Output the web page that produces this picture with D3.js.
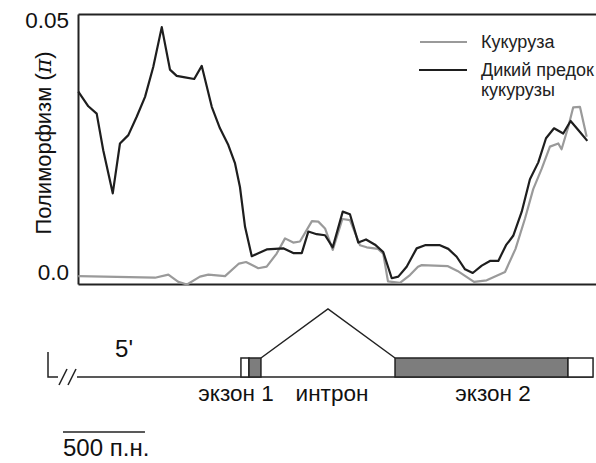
<!DOCTYPE html>
<html>
<head>
<meta charset="utf-8">
<script src="https://cdn.jsdelivr.net/npm/d3@7.9.0/dist/d3.min.js"></script>
<style>
  body { margin: 0; background: #fff; }
  svg { display: block; font-family: "Liberation Sans", Arial, Helvetica, sans-serif; }
</style>
</head>
<body>
<svg id="chart" width="596" height="463"></svg>
<script>
// positions along the gene, bp
const wildX = [2, 63, 114, 154, 212, 256, 307, 358, 409, 459, 511, 561, 602, 653, 709, 755, 816, 866, 917, 958, 988, 1019,
  1060, 1151, 1252, 1313, 1365, 1405, 1456, 1507, 1554, 1615, 1659, 1710, 1757, 1812, 1862, 1914, 1954, 2005, 2066, 2117,
  2208, 2259, 2310, 2361, 2408, 2463, 2513, 2564, 2611, 2655, 2707, 2757, 2808, 2855, 2904, 2960, 3005, 3062, 3107];
const wildPi = [0.0352, 0.0324, 0.0310, 0.0240, 0.0158, 0.0253, 0.0269, 0.0304, 0.0342, 0.0399, 0.0475, 0.0394, 0.0382,
  0.0379, 0.0376, 0.0401, 0.0323, 0.0282, 0.0250, 0.0215, 0.0170, 0.0094, 0.0038, 0.0051, 0.0053, 0.0044, 0.0044, 0.0085,
  0.0080, 0.0078, 0.0055, 0.0123, 0.0118, 0.0064, 0.0070, 0.0060, 0.0046, -0.0004, -0.0001, 0.0018, 0.0053, 0.0059,
  0.0059, 0.0052, 0.0037, 0.0013, 0.0006, 0.0020, 0.0029, 0.0029, 0.0059, 0.0077, 0.0123, 0.0185, 0.0217, 0.0263,
  0.0282, 0.0272, 0.0296, 0.0275, 0.0258];

const maizeX = [2, 470, 551, 612, 665, 744, 795, 897, 982, 1025, 1100, 1151, 1212, 1263, 1313, 1354, 1427, 1466, 1507,
  1554, 1613, 1659, 1720, 1761, 1830, 1862, 1891, 1964, 2025, 2074, 2097, 2257, 2315, 2416, 2493, 2605, 2669, 2727,
  2777, 2829, 2879, 2930, 2950, 2991, 3021, 3062, 3103];
const maizePi = [0.0000, -0.0003, 0.0003, -0.0011, -0.0016, -0.0001, 0.0003, 0.0000, 0.0024, 0.0027, 0.0015, 0.0018,
  0.0043, 0.0072, 0.0064, 0.0066, 0.0105, 0.0104, 0.0091, 0.0050, 0.0109, 0.0107, 0.0059, 0.0055, 0.0052, 0.0043,
  -0.0010, -0.0013, 0.0002, 0.0018, 0.0021, 0.0019, 0.0010, -0.0011, -0.0008, 0.0008, 0.0052, 0.0110, 0.0166,
  0.0205, 0.0247, 0.0253, 0.0242, 0.0285, 0.0322, 0.0323, 0.0266];

const yTicks = [0, 0.05];
const yTickLabels = ["0.0", "0.05"];

// gene structure, bp: [start, end]
const utr5 = [994, 1043];
const cds1 = [1043, 1116];
const cds2 = [1934, 2989];
const utr3 = [2989, 3142];
const geneStart = 0;
const scaleBar = 500;

const seriesNames = ["Кукуруза", "Дикий предок", "кукурузы"];

const svg = d3.select("#chart");
const mLeft = 78, mRight = 596, mTop = 14, mBottom = 284;

const x = d3.scaleLinear().domain([0, 3160]).range([mLeft, mRight]);
const y = d3.scaleLinear().domain([-0.0015, 0.05]).range([mBottom, mTop]);

const wild = wildX.map((v, i) => [v, wildPi[i]]);
const maize = maizeX.map((v, i) => [v, maizePi[i]]);
const line = d3.line().x(d => x(d[0])).y(d => y(d[1]));

// frame
const yAxis = d3.axisLeft(y).tickValues(yTicks).tickSize(0).tickSizeOuter(0)
  .tickPadding(9).tickFormat((d, i) => yTickLabels[i]);
const gy = svg.append("g").attr("transform", `translate(${mLeft},0)`).call(yAxis);
gy.select(".domain").attr("stroke", "#222").attr("stroke-width", 2);
gy.selectAll("text").attr("font-size", 22.5).attr("fill", "#111");
gy.attr("font-family", null);
gy.selectAll(".tick text").attr("dy", (d, i) => i === 1 ? "0.6em" : "0.15em");

const xAxis = d3.axisBottom(x).tickValues([]).tickSizeOuter(0);
const gx = svg.append("g").attr("transform", `translate(0,${mBottom})`).call(xAxis);
gx.select(".domain").attr("stroke", "#222").attr("stroke-width", 2);
const gt = svg.append("g").attr("transform", `translate(0,${mTop})`).call(d3.axisTop(x).tickValues([]).tickSizeOuter(0));
gt.select(".domain").attr("stroke", "#222").attr("stroke-width", 2);

svg.append("text")
  .attr("transform", "translate(51,143) rotate(-90)")
  .attr("text-anchor", "middle")
  .attr("font-size", 22).attr("fill", "#111")
  .html('Полиморфизм (<tspan font-style="italic" font-family="DejaVu Serif">π</tspan>)');

// lines
svg.append("path").datum(maize).attr("d", line)
  .attr("fill", "none").attr("stroke", "#9a9a9a").attr("stroke-width", 2.2).attr("stroke-linejoin", "round");
svg.append("path").datum(wild).attr("d", line)
  .attr("fill", "none").attr("stroke", "#1e1e1e").attr("stroke-width", 2.2).attr("stroke-linejoin", "round");

// legend
const lg = svg.append("g");
lg.append("line").attr("x1", 420).attr("x2", 467).attr("y1", 42).attr("y2", 42)
  .attr("stroke", "#9a9a9a").attr("stroke-width", 2);
lg.append("line").attr("x1", 419).attr("x2", 467).attr("y1", 70).attr("y2", 70)
  .attr("stroke", "#1e1e1e").attr("stroke-width", 2.2);
lg.selectAll("text").data(seriesNames).join("text")
  .attr("x", 481).attr("y", (d, i) => [48, 76, 96][i])
  .attr("font-size", 18).attr("fill", "#222").text(d => d);

// gene diagram
const base = 377, boxTop = 358;
const g = svg.append("g").attr("stroke", "#222").attr("stroke-width", 1.5);
g.append("polyline").attr("fill", "none")
  .attr("points", `48,352 48,${base} 58,${base}`);
g.append("line").attr("x1", 59).attr("y1", 385).attr("x2", 67).attr("y2", 369);
g.append("line").attr("x1", 68).attr("y1", 385).attr("x2", 76).attr("y2", 369);
g.append("line").attr("x1", x(geneStart) - 1).attr("x2", x(utr3[1])).attr("y1", base).attr("y2", base);

const boxes = [[utr5, "#fff"], [cds1, "#7d7d7d"], [cds2, "#7d7d7d"], [utr3, "#fff"]];
g.selectAll("rect").data(boxes).join("rect")
  .attr("x", d => x(d[0][0])).attr("width", d => x(d[0][1]) - x(d[0][0]))
  .attr("y", boxTop).attr("height", base - boxTop)
  .attr("fill", d => d[1]);

const mid = (cds1[1] + cds2[0]) / 2;
g.append("polyline").attr("fill", "none")
  .attr("points", `${x(cds1[1])},${boxTop} ${x(mid)},309 ${x(cds2[0])},${boxTop}`);

const labels = [["5'", 124, 357, 24], ["экзон 1", 236, 401, 22.5], ["интрон", 332, 401, 22.5], ["экзон 2", 493, 401, 22.5]];
svg.selectAll("text.lab").data(labels).join("text").attr("class", "lab")
  .attr("x", d => d[1]).attr("y", d => d[2]).attr("text-anchor", "middle")
  .attr("font-size", d => d[3]).attr("fill", "#111").text(d => d[0]);

// scale bar
svg.append("line").attr("x1", 63).attr("x2", 63 + x(scaleBar) - x(0)).attr("y1", 432).attr("y2", 432)
  .attr("stroke", "#222").attr("stroke-width", 1.5);
svg.append("text").attr("x", 63).attr("y", 456).attr("font-size", 24).attr("fill", "#111").text("500 п.н.");
</script>
</body>
</html>
